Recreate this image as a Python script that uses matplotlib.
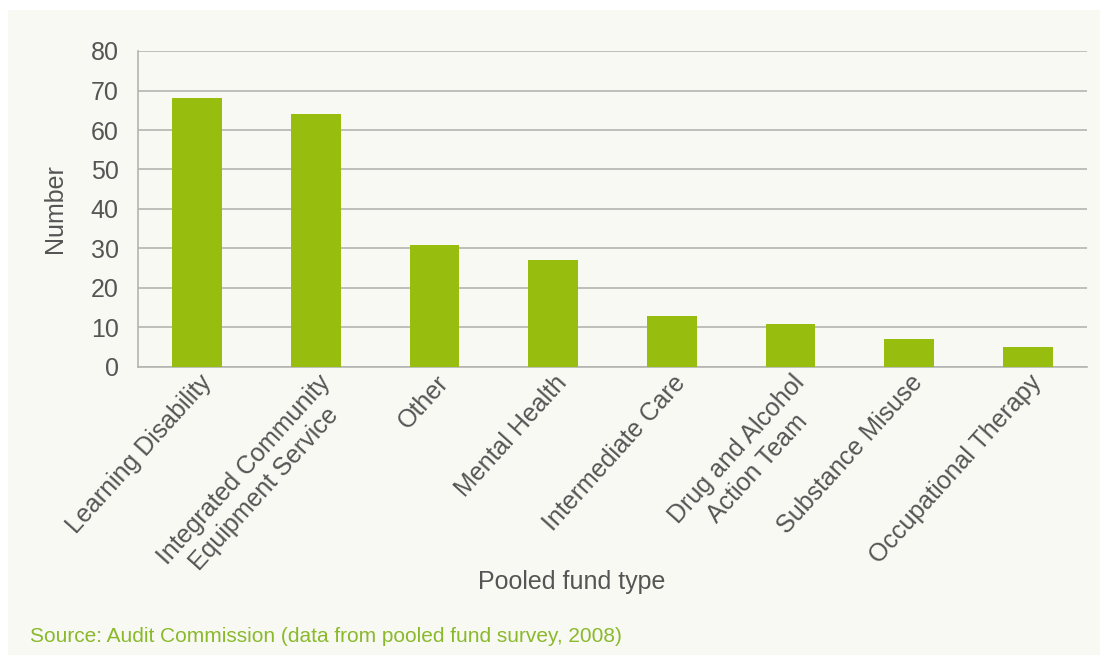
import matplotlib
matplotlib.use("Agg")
import matplotlib.pyplot as plt
from matplotlib.patches import Rectangle
import matplotlib.transforms as mtransforms

categories = ["Learning Disability", "Integrated Community\nEquipment Service", "Other",
              "Mental Health", "Intermediate Care", "Drug and Alcohol\nAction Team",
              "Substance Misuse", "Occupational Therapy"]
values = [68, 64, 31, 27, 13, 11, 7, 5]
yticks = [0, 10, 20, 30, 40, 50, 60, 70, 80]

W, H = 1103, 655
plt.rcParams['font.family'] = ['Liberation Sans', 'DejaVu Sans']
fig = plt.figure(figsize=(W/100, H/100), dpi=100, facecolor="white")

bg = "#f9f9f4"
fig.add_artist(Rectangle((8/W, 0), (1100-8)/W, (H-10)/H, transform=fig.transFigure,
                         facecolor=bg, edgecolor="none", zorder=-10))

ax = fig.add_axes([138/W, 1-367/H, (1087-138)/W, (367-51)/H])
ax.set_zorder(1)
ax.set_facecolor(bg)
x = list(range(len(categories)))
ax.bar(x, values, width=0.42, color="#97bd0e", zorder=3)
ax.set_xlim(-0.5, len(categories)-0.5)
ax.set_ylim(0, 80)
ax.set_yticks(yticks)
ax.grid(axis="y", color="#b4b4b0", linewidth=1.2, zorder=1)
for s in ["top", "right"]:
    ax.spines[s].set_visible(False)
for s in ["left", "bottom"]:
    ax.spines[s].set_color("#b4b4b0")
    ax.spines[s].set_linewidth(1.2)
ax.tick_params(axis="both", length=0, colors="#555555", labelsize=18)
ax.tick_params(axis="y", pad=14)
ax.set_xticks(x)
ax.set_xticklabels(categories, rotation=48, ha="right", rotation_mode="anchor",
                   multialignment="center", color="#555555", fontsize=18)
offset = mtransforms.ScaledTranslation(1/100, 1/100, fig.dpi_scale_trans)
for lab in ax.get_xticklabels():
    lab.set_transform(lab.get_transform() + offset)
ax.set_ylabel("Number", fontsize=18, color="#555555", labelpad=17)
fig.text(572/W, 1-582/H, "Pooled fund type", ha="center", va="center", fontsize=18, color="#555555")
fig.text(30/W, 1-637/H, "Source: Audit Commission (data from pooled fund survey, 2008)",
         ha="left", va="center", fontsize=15, color="#8ab92c")

fig.savefig("out.png", dpi=100, facecolor="white")
